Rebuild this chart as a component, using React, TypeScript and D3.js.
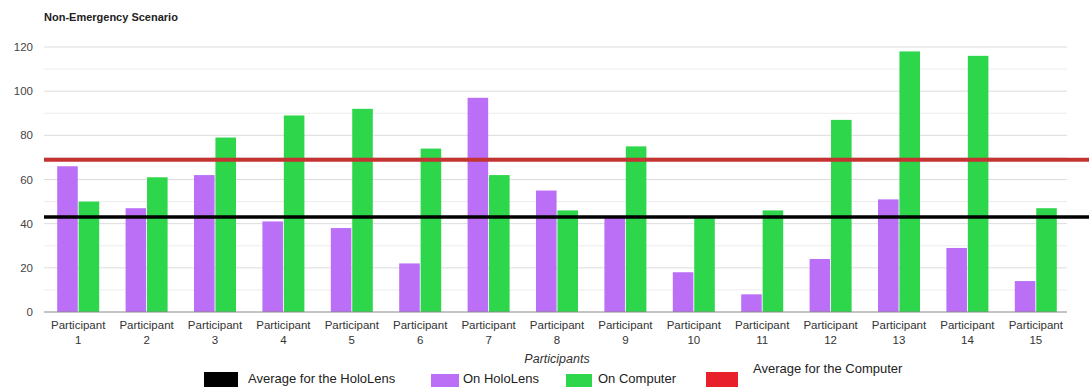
import * as d3 from "d3";
import * as React from "react";

const participants = ["1", "2", "3", "4", "5", "6", "7", "8", "9", "10", "11", "12", "13", "14", "15"];
const onHoloLens = [66, 47, 62, 41, 38, 22, 97, 55, 43, 18, 8, 24, 51, 29, 14];
const onComputer = [50, 61, 79, 89, 92, 74, 62, 46, 75, 43, 46, 87, 118, 116, 47];
const avgHoloLens = 43;
const avgComputer = 69;
const yTicks = [0, 20, 40, 60, 80, 100, 120];

const W = 1089;
const H = 387;
const font = '"Liberation Sans", Arial, sans-serif';

export default function App() {
  const left = 44;
  const right = 1070;

  const x = d3.scaleBand<string>().domain(participants).range([left, right]).paddingInner(0.386).paddingOuter(0.193);
  const x1 = d3.scaleBand<string>().domain(["h", "c"]).range([0, x.bandwidth()]).paddingInner(0.04);
  const y = d3.scaleLinear().domain([0, 120]).range([312, 47]);
  const minor = d3.range(10, 130, 20);

  return (
    <div style={{ position: "absolute", left: 0, top: 0 }}>
      <svg width={W} height={H} style={{ display: "block", fontFamily: font }}>
        <rect width={W} height={H} fill="#fff" />
        <text x={44} y={21} fontSize={11} fontWeight="bold" fill="#222">Non-Emergency Scenario</text>

        {/* gridlines */}
        {minor.map((t) => (
          <line key={"m" + t} x1={left} x2={1067} y1={y(t)} y2={y(t)} stroke="#ececec" />
        ))}
        {yTicks.filter((t) => t > 0).map((t) => (
          <line key={"g" + t} x1={left} x2={1067} y1={y(t)} y2={y(t)} stroke="#dcdcdc" />
        ))}
        {yTicks.map((t) => (
          <text key={"t" + t} x={33} y={y(t)} dy="0.35em" textAnchor="end" fontSize={11.5} fill="#444">{t}</text>
        ))}

        {/* bars */}
        {participants.map((p, i) => (
          <g key={p} transform={`translate(${x(p)},0)`}>
            <rect x={x1("h")} y={y(onHoloLens[i])} width={x1.bandwidth()} height={y(0) - y(onHoloLens[i])} fill="#bb6ef6" />
            <rect x={x1("c")} y={y(onComputer[i])} width={x1.bandwidth()} height={y(0) - y(onComputer[i])} fill="#2dd64a" />
          </g>
        ))}
        <line x1={left} x2={1067} y1={y(0)} y2={y(0)} stroke="#888" strokeWidth={1} />

        {/* average lines */}
        <line x1={left} x2={W} y1={y(avgComputer)} y2={y(avgComputer)} stroke="#c43232" strokeWidth={4} />
        <line x1={left} x2={W} y1={y(avgHoloLens)} y2={y(avgHoloLens)} stroke="#000" strokeWidth={3.5} />

        {/* x labels */}
        {participants.map((p) => {
          const cx = (x(p) as number) + x.bandwidth() / 2;
          return (
            <g key={"l" + p} fontSize={11.5} fill="#333" textAnchor="middle">
              <text x={cx} y={329}>Participant</text>
              <text x={cx} y={344}>{p}</text>
            </g>
          );
        })}
        <text x={557} y={363} textAnchor="middle" fontSize={12.5} fontStyle="italic" fill="#333">Participants</text>

        {/* legend */}
        <rect x={204} y={372} width={34} height={20} fill="#000" />
        <text x={248} y={382.5} fontSize={13} fill="#222">Average for the HoloLens</text>
        <rect x={431} y={374} width={28} height={18} fill="#bb6ef6" />
        <text x={463} y={383} fontSize={13} fill="#222">On HoloLens</text>
        <rect x={566} y={374} width={26} height={18} fill="#2dd64a" />
        <text x={598} y={383} fontSize={13} fill="#222">On Computer</text>
        <rect x={706} y={372} width={32} height={20} fill="#e8202a" />
        <text x={753} y={373} fontSize={13} fill="#222">Average for the Computer</text>
      </svg>
    </div>
  );
}
